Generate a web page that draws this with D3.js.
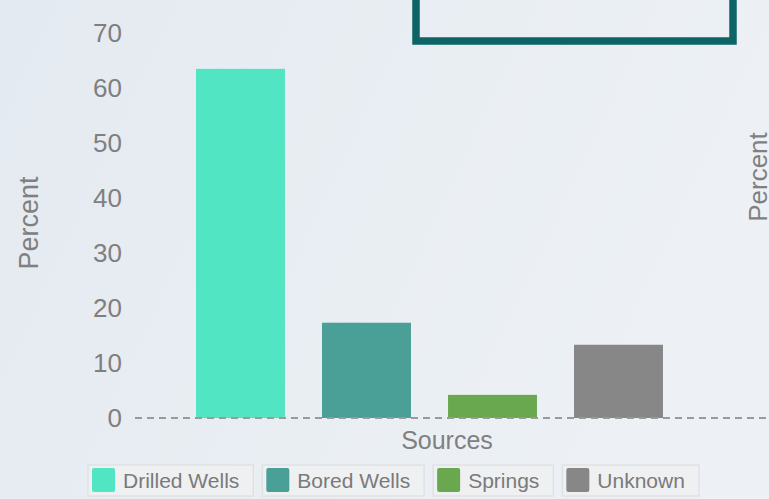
<!DOCTYPE html>
<html lang="en">
<head>
  <meta charset="UTF-8">
  <title>Water Sources</title>
  <style>
    html, body { margin: 0; padding: 0; }
    body { width: 769px; height: 499px; overflow: hidden; }
    svg { display: block; font-family: "Liberation Sans", Arial, sans-serif; }
    .tick-label { fill: #7f7f7f; font-size: 26px; }
    .axis-title { fill: #808080; font-size: 26px; }
    .legend text { fill: #7a7a7a; font-size: 21px; }
  </style>
</head>
<body>
  <script src="https://d3js.org/d3.v7.min.js"></script>
  <script>
    // chart data
    const categories = ['Drilled Wells', 'Bored Wells', 'Springs', 'Unknown'];
    const values = [63.4, 17.3, 4.2, 13.3];
    const colors = ['#52e5c3', '#4a9f97', '#69a84f', '#878787'];
    const yTicks = [0, 10, 20, 30, 40, 50, 60, 70];

    const WIDTH = 769;
    const HEIGHT = 499;

    const svg = d3.select('body').append('svg')
      .attr('width', WIDTH)
      .attr('height', HEIGHT);

    // background
    const defs = svg.append('defs');
    const grad = defs.append('linearGradient')
      .attr('id', 'bg')
      .attr('x1', '0').attr('y1', '0').attr('x2', '1').attr('y2', '0.3');
    grad.append('stop').attr('offset', '0%').attr('stop-color', '#e4eaf1');
    grad.append('stop').attr('offset', '100%').attr('stop-color', '#edf1f5');
    svg.append('rect')
      .attr('width', WIDTH).attr('height', HEIGHT)
      .attr('fill', 'url(#bg)');

    // scales
    const scaleX = d3.scaleBand().domain(categories)
      .range([177.5, 681.5])
      .paddingInner(0.294)
      .paddingOuter(0.147);
    const scaleY = d3.scaleLinear().domain([0, 70]).range([418, 32.5]);

    // y tick labels
    svg.append('g').selectAll('text')
      .data(yTicks)
      .enter()
      .append('text')
      .attr('class', 'tick-label')
      .attr('x', 122)
      .attr('y', d => scaleY(d))
      .attr('dy', '0.35em')
      .attr('text-anchor', 'end')
      .text(d => d);

    // bars
    svg.append('g').selectAll('rect')
      .data(categories)
      .enter()
      .append('rect')
      .attr('x', d => scaleX(d))
      .attr('y', (d, i) => scaleY(values[i]))
      .attr('width', scaleX.bandwidth())
      .attr('height', (d, i) => scaleY(0) - scaleY(values[i]))
      .attr('fill', (d, i) => colors[i]);

    // dashed baseline
    svg.append('line')
      .attr('x1', 135).attr('x2', WIDTH)
      .attr('y1', scaleY(0)).attr('y2', scaleY(0))
      .attr('stroke', '#9a9a9a')
      .attr('stroke-width', 2)
      .attr('stroke-dasharray', '7,5');

    // axis titles
    svg.append('text')
      .attr('class', 'axis-title')
      .attr('transform', 'translate(38,223) rotate(-90)')
      .attr('text-anchor', 'middle')
      .style('font-size', '27px')
      .text('Percent');

    svg.append('text')
      .attr('class', 'axis-title')
      .attr('transform', 'translate(767,177) rotate(-90)')
      .attr('text-anchor', 'middle')
      .text('Percent');

    svg.append('text')
      .attr('class', 'axis-title')
      .attr('x', 447)
      .attr('y', 449)
      .attr('text-anchor', 'middle')
      .style('font-size', '25px')
      .text('Sources');

    // framed box at the top (cut off by the edge)
    svg.append('rect')
      .attr('x', 416).attr('y', -20)
      .attr('width', 317).attr('height', 61)
      .attr('fill', 'none')
      .attr('stroke', '#0d6466')
      .attr('stroke-width', 7.5);

    // legend
    const legend = svg.append('g').attr('class', 'legend');
    let lx = 88;
    categories.forEach((c, i) => {
      const item = legend.append('g').attr('transform', `translate(${lx},465)`);
      const box = item.append('rect')
        .attr('y', 0).attr('height', 31)
        .attr('fill', '#eef0f2')
        .attr('stroke', '#dfe2e5')
        .attr('stroke-width', 1.5);
      item.append('rect')
        .attr('x', 4).attr('y', 3)
        .attr('width', 23).attr('height', 24)
        .attr('rx', 2)
        .attr('fill', colors[i]);
      const label = item.append('text')
        .attr('x', 35).attr('y', 23)
        .text(c);
      const w = 35 + label.node().getComputedTextLength() + 14;
      box.attr('width', w);
      lx += w + 9;
    });
  </script>
</body>
</html>
